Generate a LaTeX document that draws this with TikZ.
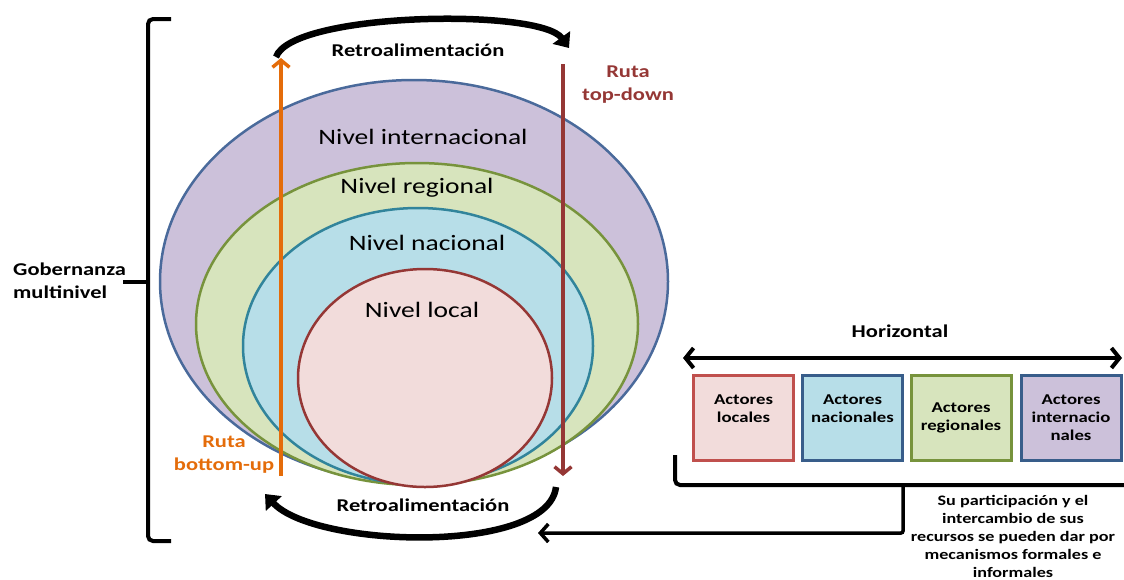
\documentclass[tikz,border=0pt]{standalone}
\usepackage{fontspec}
\setmainfont{Carlito}[FakeStretch=1.25]
\usetikzlibrary{arrows.meta}

\definecolor{intlfill}{HTML}{CCC1DA}
\definecolor{intlline}{HTML}{4A6A9B}
\definecolor{regfill}{HTML}{D7E4BD}
\definecolor{regline}{HTML}{77933C}
\definecolor{nacfill}{HTML}{B7DEE8}
\definecolor{nacline}{HTML}{31849B}
\definecolor{locfill}{HTML}{F2DCDB}
\definecolor{locline}{HTML}{953735}
\definecolor{boxred}{HTML}{C0504D}
\definecolor{boxblue}{HTML}{385D8A}
\definecolor{rutaorange}{HTML}{E46C0A}
\definecolor{rutared}{HTML}{953735}

\tikzset{
  nivel/.style={font=\fontsize{22}{26}\selectfont, inner sep=0pt},
  actor/.style={draw, line width=3pt, minimum width=100pt, minimum height=85pt,
    inner sep=0pt, align=center, font=\bfseries\fontsize{15}{18}\selectfont},
  lbl/.style={font=\bfseries\fontsize{18}{23}\selectfont, inner sep=0pt, align=center},
  retro/.style={line width=6.5pt, -{Triangle[length=13pt,width=21pt]}},
  ruta/.style={line width=3.5pt, -{Straight Barb[length=7pt,width=17pt]}},
  brk/.style={line width=4pt, rounded corners=5pt},
}

\begin{document}
\begin{tikzpicture}[x=1pt, y=-1pt]
  \useasboundingbox (0,0) rectangle (1124,579);
  % niveles
  \draw[line width=2.5pt, draw=intlline, fill=intlfill] (414,281.5) ellipse [x radius=254, y radius=201.5];
  \draw[line width=2.5pt, draw=regline, fill=regfill] (417,324) ellipse [x radius=221, y radius=161];
  \draw[line width=2.5pt, draw=nacline, fill=nacfill] (418,346) ellipse [x radius=175, y radius=138];
  \draw[line width=2.5pt, draw=locline, fill=locfill] (425,378) ellipse [x radius=127, y radius=109];
  \node[nivel] (intl) at (423,137) {Nivel internacional};
  \node[nivel] (reg) at (417,188) {Nivel regional};
  \node[nivel] (nac) at (427,243) {Nivel nacional};
  \node[nivel] (loc) at (422,310) {Nivel local};
  % rutas
  \coordinate (buS) at (281,476);
  \coordinate (buE) at (281,58);
  \coordinate (tdS) at (563,64);
  \coordinate (tdE) at (563,476);
  \draw[ruta, rutaorange] (buS) -- (buE);
  \draw[ruta, rutared] (tdS) -- (tdE);
  \node[lbl, rutared] (topdown) at (628,85) {Ruta\\top-down};
  \node[lbl, rutaorange] (bottomup) at (224,455) {Ruta\\bottom-up};
  % retroalimentacion
  \draw[retro] (276,57) .. controls (292,12) and (540,8) .. (569,48);
  \draw[retro] (556,487) .. controls (548,555) and (315,548) .. (265,494);
  \node[font=\bfseries\fontsize{18}{22}\selectfont] (retrotop) at (418,50) {Retroalimentación};
  \node[font=\bfseries\fontsize{18}{22}\selectfont] (retrobot) at (423,505) {Retroalimentación};
  % gobernanza
  \draw[brk] (171,19) -- (148,19) -- (148,541) -- (171,541);
  \draw[line width=4pt] (148,282) -- (123,282);
  \node[lbl, align=left, anchor=west] (gob) at (13,281) {Gobernanza\\multinivel};
  % horizontal
  \node[lbl] (horiz) at (900,331) {Horizontal};
  \coordinate (hL) at (683,358);
  \coordinate (hR) at (1122,358);
  \draw[line width=4pt, {Straight Barb[length=8pt,width=20pt]}-{Straight Barb[length=8pt,width=20pt]}] (hL) -- (hR);
  \node[actor, boxred, fill=locfill, text=black] (aloc) at (743.5,418) {Actores\\locales\\~};
  \node[actor, boxblue, fill=nacfill, text=black] (anac) at (852.5,418) {Actores\\nacionales\\~};
  \node[actor, regline, fill=regfill, text=black] (areg) at (961,418) {Actores\\regionales};
  \node[actor, boxblue, fill=intlfill, text=black] (aint) at (1071,418) {Actores\\internacio\\nales};
  % participacion
  \draw[brk] (675,455) |- (1130,485);
  \coordinate (tick) at (903,485);
  \coordinate (mecS) at (538,533);
  \draw[line width=3.5pt, rounded corners=2pt, -{Straight Barb[length=8pt,width=18pt]}] (tick) |- (mecS);
  \node[font=\bfseries\fontsize{14.5}{18}\selectfont, align=center] (mecan) at (1013,536)
    {Su participación y el\\intercambio de sus\\recursos  se pueden dar por\\mecanismos formales e\\informales};
\end{tikzpicture}
\end{document}
